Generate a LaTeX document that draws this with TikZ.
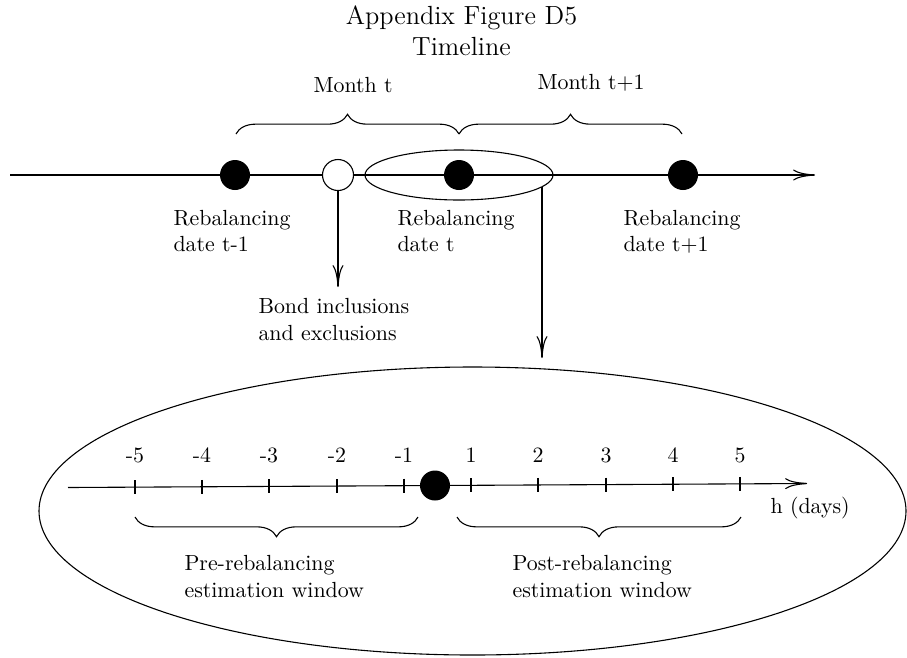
\documentclass[tikz,border=0pt]{standalone}
\usetikzlibrary{shapes.geometric,arrows.meta,decorations.pathreplacing,calc}
\begin{document}
\def\pxu{0.457pt}
\begin{tikzpicture}[x=0.457pt,y=-0.457pt,line width=0.5pt,
  arr/.style={-{To[length=10pt,width=5pt]}},
  fdot/.style={circle,fill=black,inner sep=0pt,outer sep=0pt,minimum size=30*\pxu},
  hdot/.style={circle,draw,fill=white,inner sep=0pt,outer sep=0pt,minimum size=31*\pxu},
  lbl/.style={inner sep=0pt,align=left,anchor=north west},
  txt/.style={inner sep=0pt},
  num/.style={inner sep=0pt,anchor=base},
  brc/.style={decorate,decoration={brace,amplitude=9pt}},
  mbrc/.style={decorate,decoration={brace,amplitude=9pt,mirror}},
  tick/.style={line width=0.5pt}
]
\useasboundingbox (0,0) rectangle (907,657);

% title
\node[txt,align=center,font=\large,anchor=north] (title) at (461.5,5.5) {Appendix Figure D5\\Timeline};

% upper timeline
\coordinate (L0) at (10,175);
\coordinate (L1) at (815,175);
\draw[arr] (L0) -- (L1);
\node[ellipse,draw,inner sep=0pt,outer sep=0pt,minimum width=188*\pxu,minimum height=50*\pxu] (se) at (459,175) {};
\node[fdot] (d1) at (235,175) {};
\node[hdot] (h1) at (338,175) {};
\node[fdot] (d2) at (459,175) {};
\node[fdot] (d3) at (683,175) {};

% braces
\coordinate (b1a) at (236,134);
\coordinate (b1b) at (459,134);
\coordinate (b2a) at (459,134);
\coordinate (b2b) at (682,134);
\draw[brc] (b1a) -- (b1b);
\draw[brc] (b2a) -- (b2b);
\node[txt,anchor=base west] (mt) at (313,92) {Month t};
\node[txt,anchor=base west] (mt1) at (537,89) {Month t+1};

% labels
\node[lbl] (r1) at (173,210) {Rebalancing\\date t-1};
\node[lbl] (r2) at (397,210) {Rebalancing\\date t};
\node[lbl] (r3) at (623,210) {Rebalancing\\date t+1};

% arrows down
\coordinate (a1) at (338,287);
\draw[arr] (h1.south) -- (a1);
\node[lbl] (bond) at (258,298) {Bond inclusions\\and exclusions};

\coordinate (a2) at (542,358);
\draw[arr] (a2 |- se.-8) -- (a2);

% big ellipse
\node[ellipse,draw,inner sep=0pt,outer sep=0pt,minimum width=867*\pxu,minimum height=288*\pxu] (be) at (472.5,511) {};

% lower axis
\coordinate (M0) at (68,487.5);
\coordinate (M1) at (807,483.5);
\draw[arr] (M0) -- (M1);
\foreach \x/\y/\lab in {135/487.14/-5,202/486.77/-4,269/486.41/-3,337/486.04/-2,404/485.68/-1,471/485.32/1,538/484.96/2,606/484.59/3,673/484.23/4,740/483.86/5}{
  \draw[tick] (\x,\y-7) -- (\x,\y+7);
  \node[num] at (\x,462) {\lab};
}
\node[fdot] (d0) at (435,485.5) {};
\node[txt,anchor=base west] (hd) at (770,513) {h (days)};

% lower braces
\coordinate (c1a) at (135,517);
\coordinate (c1b) at (418,517);
\coordinate (c2a) at (457,517);
\coordinate (c2b) at (741,517);
\draw[mbrc] (c1a) -- (c1b);
\draw[mbrc] (c2a) -- (c2b);
\node[lbl] (pre) at (184,555) {Pre-rebalancing\\estimation window};
\node[lbl] (post) at (512,555) {Post-rebalancing\\estimation window};
\end{tikzpicture}
\end{document}
